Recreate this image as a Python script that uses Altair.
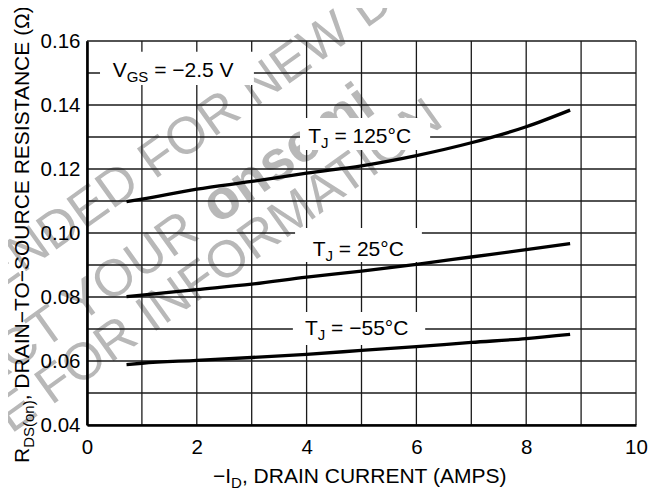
import math
import altair as alt
import pandas as pd

# ---------------- data ----------------
current = [0.72, 1, 2, 3, 4, 5, 6, 7, 8, 8.8]
r_125 = [0.1098, 0.1106, 0.1137, 0.1161, 0.1187, 0.1210, 0.1242, 0.1282, 0.1332, 0.1384]
r_25 = [0.0801, 0.0806, 0.0823, 0.0840, 0.0862, 0.0881, 0.0902, 0.0925, 0.0948, 0.0967]
r_m55 = [0.0589, 0.0593, 0.0602, 0.0611, 0.0621, 0.0633, 0.0645, 0.0658, 0.0670, 0.0683]

x_ticks = list(range(0, 11))
y_ticks = [round(0.04 + 0.01 * i, 2) for i in range(13)]

# annotation labels (text, subscript, remainder) and their anchors in data units
lab_main = ["V", "T", "T", "T"]
lab_sub = ["GS", "J", "J", "J"]
lab_rest = ["= \u22122.5 V", "= 125\u00b0C", "= 25\u00b0C", "= \u221255\u00b0C"]
lab_x = [0.468, 4.03, 4.11, 3.97]
lab_y = [0.14866, 0.12813, 0.09272, 0.06813]
# white boxes behind the labels
box_x0 = [0.237, 3.88, 3.79, 3.75]
box_x1 = [3.04, 6.25, 6.10, 6.16]
box_y0 = [0.14625, 0.12594, 0.09094, 0.06500]
box_y1 = [0.15666, 0.13594, 0.10156, 0.07531]

# watermark lines: text, key word, along-line position of key word, baseline offset
wm_text = ["NOT RECOMMENDED FOR NEW DESIGN", "CONTACT YOUR ", "REPRESENTATIVE FOR INFORMATION"]
wm_key = ["FOR", "YOUR", "INFORMATION"]
wm_t = [22, -118, -62]
wm_s = [236, 310, 360]
WM_FS = 52
WM_BOLD_FS = 56
WM_ANGLE = 35.5
WM_COLOR = "#b8b8b8"

FONT = "Liberation Sans"
W = {"A": .667, "B": .667, "C": .722, "D": .722, "E": .667, "F": .611, "G": .778, "H": .722,
     "I": .278, "J": .5, "K": .667, "L": .556, "M": .833, "N": .722, "O": .778, "P": .667,
     "Q": .778, "R": .722, "S": .667, "T": .611, "U": .722, "V": .667, "W": .944, "X": .667,
     "Y": .667, "Z": .611, " ": .278, "=": .584, ".": .278, ",": .278, "\u00b0": .4,
     "\u2212": .584, "(": .333, ")": .333, "\u03a9": .768, "o": .556, "n": .556}
for dgt in "0123456789":
    W[dgt] = .556


def tw(s, size):
    return sum(W.get(c, .6) for c in s) * size


PLOT_LEFT, PLOT_TOP = 87, 41  # absolute position of plot origin in the page
LAB_FS, SUB_FS = 21, 15

rows = []
for name, vals in (("125", r_125), ("25", r_25), ("-55", r_m55)):
    for xv, yv in zip(current, vals):
        rows.append({"x": xv, "y": yv, "s": name})
curves = pd.DataFrame(rows)

labels = pd.DataFrame({"x": lab_x, "y": lab_y, "m": lab_main, "sub": lab_sub, "rest": lab_rest})
boxes = pd.DataFrame({"x": box_x0, "x2": box_x1, "y": box_y0, "y2": box_y1})

xscale = alt.Scale(domain=[0, 10], nice=False, zero=False)
yscale = alt.Scale(domain=[0.04, 0.16], nice=False, zero=False)

xaxis = alt.Axis(values=x_ticks, labelExpr="datum.value % 2 == 0 ? datum.label : ''",
                 title=None, ticks=False, grid=False, domainColor="black", domainWidth=2.6,
                 labelFont=FONT, labelFontSize=20.5, labelColor="black", labelPadding=12,
                 labelFlush=False, labelOverlap=False, zindex=1)
yaxis = alt.Axis(values=y_ticks,
                 labelExpr="round(datum.value*100) % 2 == 0 ? format(datum.value, '.2f') : ''",
                 title=None, ticks=False, grid=False, domainColor="black", domainWidth=2.6,
                 labelFont=FONT, labelFontSize=20.5, labelColor="black", labelPadding=7,
                 labelOverlap=False, zindex=1)

X = alt.X("x:Q", scale=xscale, axis=xaxis)
Y = alt.Y("y:Q", scale=yscale, axis=yaxis)

layers = []

# watermark (behind everything)
ca, sa = math.cos(math.radians(WM_ANGLE)), math.sin(math.radians(WM_ANGLE))


def wm_point(t, s):
    return t * ca + s * sa - PLOT_LEFT, -t * sa + s * ca - PLOT_TOP


for txt, key, t_key, s in zip(wm_text, wm_key, wm_t, wm_s):
    t0 = t_key - tw(txt[:txt.index(key)], WM_FS)
    px, py = wm_point(t0, s)
    layers.append(alt.Chart(pd.DataFrame({"t": [txt]})).mark_text(
        font=FONT, fontSize=WM_FS, align="left", baseline="alphabetic", angle=360 - WM_ANGLE,
        color=WM_COLOR).encode(x=alt.value(px), y=alt.value(py), text="t:N"))
    if key == "YOUR":
        px, py = wm_point(t_key + tw("YOUR ", WM_FS), s)
        layers.append(alt.Chart(pd.DataFrame({"t": ["onsemi"]})).mark_text(
            font=FONT, fontSize=WM_BOLD_FS, fontWeight="bold", align="left", baseline="alphabetic",
            angle=360 - WM_ANGLE, color=WM_COLOR).encode(x=alt.value(px), y=alt.value(py), text="t:N"))

# grid
layers.append(alt.Chart(pd.DataFrame({"x": x_ticks})).mark_rule(color="#1a1a1a", strokeWidth=1.3).encode(x=X))
layers.append(alt.Chart(pd.DataFrame({"y": y_ticks})).mark_rule(color="#1a1a1a", strokeWidth=1.3).encode(y=Y))

layers.append(alt.Chart(boxes).mark_rect(color="white").encode(x=X, x2="x2:Q", y=Y, y2="y2:Q"))
layers.append(alt.Chart(curves).mark_line(color="black", strokeWidth=3.3, interpolate="monotone").encode(
    x=X, y=Y, detail="s:N"))
layers.append(alt.Chart(labels).mark_text(font=FONT, fontSize=LAB_FS, align="left",
                                          baseline="alphabetic", color="black").encode(x=X, y=Y, text="m:N"))

# subscripts and remainders: each label placed with pixel offsets from its anchor
for i in range(len(lab_main)):
    one = labels.iloc[[i]]
    dx_sub = tw(lab_main[i], LAB_FS)
    dx_rest = dx_sub + tw(lab_sub[i], SUB_FS) + tw(" ", LAB_FS)
    layers.append(alt.Chart(one).mark_text(font=FONT, fontSize=SUB_FS, align="left", baseline="alphabetic",
                                           color="black", dx=dx_sub, dy=5).encode(x=X, y=Y, text="sub:N"))
    layers.append(alt.Chart(one).mark_text(font=FONT, fontSize=LAB_FS, align="left", baseline="alphabetic",
                                           color="black", dx=dx_rest).encode(x=X, y=Y, text="rest:N"))

# axis titles with subscripts (pixel positions relative to plot area)
TF, TSF = 21, 15
xt0, xt_base = 126, 442
xt = [("\u2212I", TF, xt0, xt_base),
      ("D", TSF, xt0 + tw("\u2212I", TF), xt_base + 5),
      (", DRAIN CURRENT (AMPS)", TF, xt0 + tw("\u2212I", TF) + tw("D", TSF), xt_base)]
for s, fs, px, py in xt:
    layers.append(alt.Chart(pd.DataFrame({"t": [s]})).mark_text(
        font=FONT, fontSize=fs, align="left", baseline="alphabetic", color="black").encode(
        x=alt.value(px), y=alt.value(py), text="t:N"))

yt_x, yt_start = -58.5, 422
yt = [("R", TF, yt_start, yt_x),
      ("DS(on)", TSF, yt_start - tw("R", TF), yt_x + 5),
      (", DRAIN\u2212TO\u2212SOURCE RESISTANCE (\u03a9)", TF, yt_start - tw("R", TF) - tw("DS(on)", TSF), yt_x)]
for s, fs, py, px in yt:
    layers.append(alt.Chart(pd.DataFrame({"t": [s]})).mark_text(
        font=FONT, fontSize=fs, align="left", baseline="alphabetic", angle=270, color="black").encode(
        x=alt.value(px), y=alt.value(py), text="t:N"))

chart = alt.layer(*layers).properties(
    width=549, height=384,
    autosize=alt.AutoSizeParams(type="none"),
    padding={"left": 79, "top": 33, "right": 14, "bottom": 74},
).configure_view(stroke=None)

chart.save("out.html", embed_options={"renderer": "svg", "actions": False})
